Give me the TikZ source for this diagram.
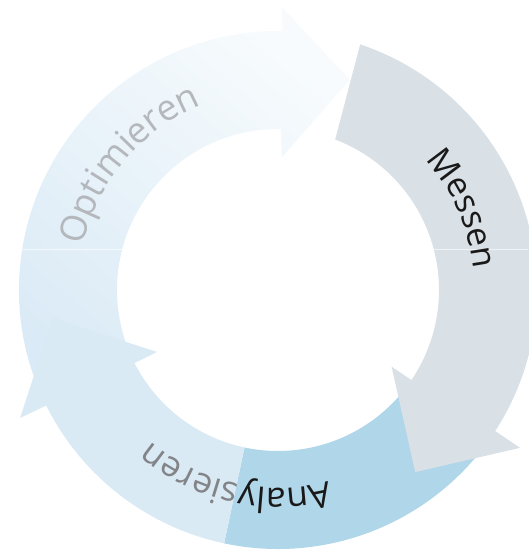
\documentclass[tikz,border=0pt]{standalone}
\usepackage{fontspec}
\newfontfamily\osans{Open Sans}
\usetikzlibrary{decorations.text}
\definecolor{greyband}{RGB}{217,225,231}
\definecolor{darkblue}{RGB}{175,214,233}
\definecolor{lightblue}{RGB}{218,234,245}
\definecolor{optlow}{RGB}{218,234,246}
\definecolor{opthigh}{RGB}{247,251,253}
\definecolor{txtdark}{RGB}{25,25,25}
\definecolor{txtmid}{RGB}{130,132,135}
\definecolor{txtlight}{RGB}{180,184,188}
\newcommand\lblM{\osans\fontsize{34}{38}\selectfont\color{txtdark}}
\newcommand\lblO{\osans\fontsize{36}{38}\selectfont\color{txtlight}}
\newcommand\lblAd{\osans\fontsize{35}{38}\selectfont\color{txtdark}}
\newcommand\lblAl{\osans\fontsize{35}{38}\selectfont\color{txtmid}}
\begin{document}
\begin{tikzpicture}[
  arclabel/.style={decorate, decoration={text along path, text align=center, text={#1}}}
]
\useasboundingbox (-278pt,-262pt) rectangle (250pt,290pt);

% Optimieren arrow
\shade[top color=opthigh, bottom color=optlow, shading angle=-40]
  (205:259pt) arc[start angle=205, end angle=89, radius=259pt]
  -- (89.2:283pt) -- (71.1:222pt) -- (88.3:133pt) -- (89:161pt)
  arc[start angle=89, end angle=205, radius=161pt] -- cycle;

% Analysieren arrow (dark part)
\fill[darkblue]
  (-36:259pt) arc[start angle=-36, end angle=-102, radius=259pt]
  -- (-102:161pt) arc[start angle=-102, end angle=-36, radius=161pt] -- cycle;
% Analysieren arrow (light part with head)
\fill[lightblue]
  (-102:259pt) arc[start angle=-102, end angle=-153.5, radius=259pt]
  -- (-153.6:288pt) -- (-172.9:227pt) -- (-152.9:136pt) -- (-153:161pt)
  arc[start angle=-153, end angle=-102, radius=161pt] -- cycle;

% Messen arrow
\fill[greyband]
  (71.5:259pt) arc[start angle=71.5, end angle=-33, radius=259pt]
  -- (-33.1:289pt) -- (-53:228pt) -- (-34:137pt) -- (-34:161pt)
  arc[start angle=-34, end angle=69.2, radius=161pt] -- cycle;

% faint seam
\draw[white, opacity=0.6, line width=0.7pt] (-278pt,41pt) -- (250pt,41pt);

% labels
\path[arclabel={|\lblM|Messen}]
  (63.75:197pt) arc[start angle=63.75, end angle=-16.25, radius=197pt];
\path[arclabel={|\lblO|Optimieren}]
  (179.85:200pt) arc[start angle=179.85, end angle=99.85, radius=200pt];
\path[arclabel={|\lblAd|Analy|\lblAl|sieren}]
  (-62.65:198pt) arc[start angle=-62.65, end angle=-142.65, radius=198pt];
\end{tikzpicture}
\end{document}
